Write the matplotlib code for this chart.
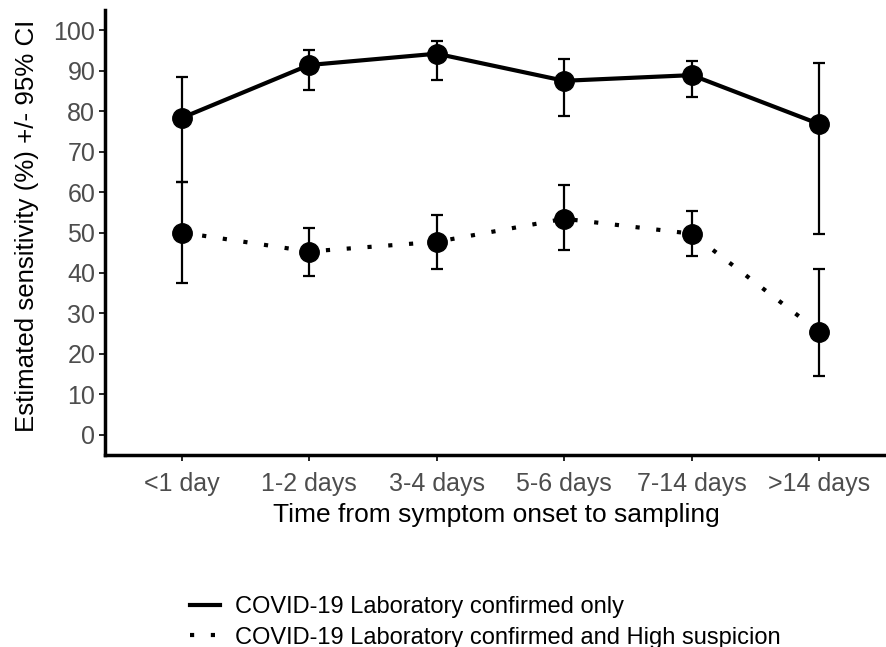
import matplotlib.pyplot as plt
import numpy as np

plt.rcParams['font.family'] = ['Liberation Sans', 'DejaVu Sans']

categories = ['<1 day', '1-2 days', '3-4 days', '5-6 days', '7-14 days', '>14 days']

# COVID-19 Laboratory confirmed only
lab_est = [78.3, 91.4, 94.2, 87.5, 88.9, 76.8]
lab_lo = [62.5, 85.2, 87.8, 78.9, 83.4, 49.6]
lab_hi = [88.4, 95.1, 97.3, 92.8, 92.5, 91.8]

# COVID-19 Laboratory confirmed and High suspicion
high_est = [50.0, 45.3, 47.7, 53.4, 49.7, 25.4]
high_lo = [37.4, 39.2, 40.9, 45.7, 44.1, 14.5]
high_hi = [62.5, 51.0, 54.4, 61.7, 55.2, 41.0]

x = np.arange(1, len(categories) + 1)

fig = plt.figure(figsize=(8.87, 6.47), dpi=100)
ax = fig.add_axes([105/887, 1 - 455/647, 1 - 105/887, (455 - 10)/647])

for est, lo, hi, ls, lab in [(lab_est, lab_lo, lab_hi, '-', 'COVID-19 Laboratory confirmed only'),
                             (high_est, high_lo, high_hi, (0, (1, 4)), 'COVID-19 Laboratory confirmed and High suspicion')]:
    est = np.array(est)
    yerr = [est - np.array(lo), np.array(hi) - est]
    ax.errorbar(x, est, yerr=yerr, fmt='none', ecolor='black', elinewidth=1.6, capsize=4.5, capthick=1.6, zorder=2)
    ax.plot(x, est, color='black', linestyle=ls, linewidth=3, zorder=3, label=lab)
    ax.plot(x, est, 'o', color='black', markersize=14, zorder=4)

ax.set_xlim(0.4, 6.53)
ax.set_ylim(-5, 105)
ax.set_yticks(range(0, 101, 10))
ax.set_xticks(x)
ax.set_xticklabels(categories)

for s in ['top', 'right']:
    ax.spines[s].set_visible(False)
for s in ['left', 'bottom']:
    ax.spines[s].set_linewidth(2.5)
ax.tick_params(axis='both', colors='black', labelcolor='#4D4D4D', labelsize=18, width=1.2, length=4)
ax.tick_params(axis='x', pad=8)
ax.tick_params(axis='y', pad=3)

ax.set_xlabel('Time from symptom onset to sampling', fontsize=19, labelpad=5.5)
ax.set_ylabel('Estimated sensitivity (%) +/- 95% CI', fontsize=18.6)
ax.yaxis.set_label_coords(-0.084, 0.515)

handles, labels = ax.get_legend_handles_labels()
fig.legend(handles, labels, loc='upper left', bbox_to_anchor=(169/887, 1 - 575/647),
           frameon=False, fontsize=17, handlelength=1.25, handletextpad=0.65, labelspacing=0.35)

fig.savefig('out.png', dpi=100)
